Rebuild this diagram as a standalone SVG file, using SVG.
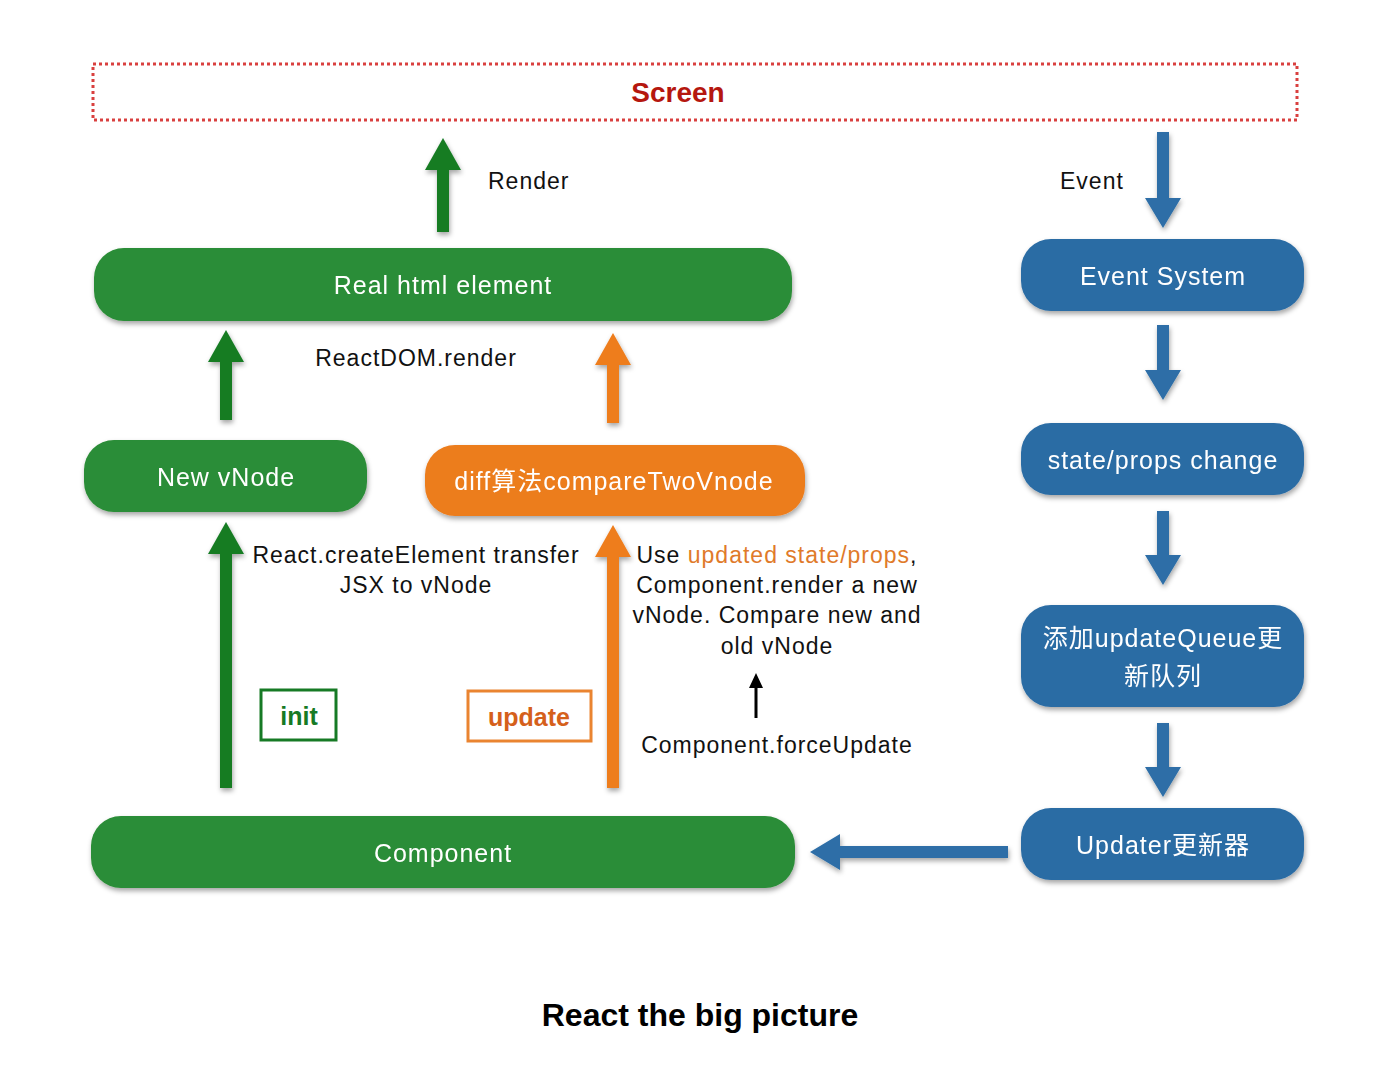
<svg xmlns="http://www.w3.org/2000/svg" width="1388" height="1070" viewBox="0 0 1388 1070">
<style>
text{font-family:"Liberation Sans",Arial,"Noto Sans CJK SC",sans-serif}
.lbl{font-size:23px;fill:#111;letter-spacing:1px}
.nt{font-size:25px;fill:#fff;text-anchor:middle;letter-spacing:1px}
.g{fill:#2c8d37}
.o{fill:#ec7d1f}
.b{fill:#2c6ca4}
.ga{fill:#157b24}
.oa{fill:#ee7d1c}
.ba{fill:#2d6ea7}
</style>
<defs>
<filter id="sh" x="-5%" y="-10%" width="110%" height="130%">
<feDropShadow dx="1" dy="3" stdDeviation="2.5" flood-color="#000" flood-opacity="0.35"/>
</filter>
</defs>
<rect width="1388" height="1070" fill="#fff"/>
<g id="screen">
<rect x="93" y="64" width="1204" height="56" fill="none" stroke="#d9403f" stroke-width="3" stroke-dasharray="3 3"/>
<text x="678" y="102" font-size="28" font-weight="bold" fill="#b5170f" text-anchor="middle">Screen</text>
</g>
<g id="connectors" filter="url(#sh)">
<path class="ga" d="M437 232 L437 170 L425 170 L443 138 L461 170 L449 170 L449 232 Z"/>
<path class="ga" d="M220 420 L220 362 L208 362 L226 330 L244 362 L232 362 L232 420 Z"/>
<path class="oa" d="M607 423 L607 365 L595 365 L613 333 L631 365 L619 365 L619 423 Z"/>
<path class="ga" d="M220 788 L220 554 L208 554 L226 522 L244 554 L232 554 L232 788 Z"/>
<path class="oa" d="M607 788 L607 557 L595 557 L613 525 L631 557 L619 557 L619 788 Z"/>
<path class="ba" d="M1157 132 L1157 198 L1145 198 L1163 228 L1181 198 L1169 198 L1169 132 Z"/>
<path class="ba" d="M1157 325 L1157 370 L1145 370 L1163 400 L1181 370 L1169 370 L1169 325 Z"/>
<path class="ba" d="M1157 511 L1157 555 L1145 555 L1163 585 L1181 555 L1169 555 L1169 511 Z"/>
<path class="ba" d="M1157 723 L1157 767 L1145 767 L1163 797 L1181 767 L1169 767 L1169 723 Z"/>
<path class="ba" d="M1008 846 L840 846 L840 834 L810 852 L840 870 L840 858 L1008 858 Z"/>
</g>
<g id="forceArrow">
<path fill="#000" d="M754.5 718 L754.5 688 L749 688 L756 673 L763 688 L757.5 688 L757.5 718 Z"/>
</g>
<g id="labels">
<text class="lbl" x="488" y="189">Render</text>
<text class="lbl" x="1060" y="189">Event</text>
<text class="lbl" x="416" y="366" text-anchor="middle">ReactDOM.render</text>
<text class="lbl" x="416" y="563" text-anchor="middle">React.createElement transfer</text>
<text class="lbl" x="416" y="593" text-anchor="middle">JSX to vNode</text>
<text class="lbl" x="777" y="563" text-anchor="middle">Use <tspan fill="#e07a2a">updated state/props</tspan>,</text>
<text class="lbl" x="777" y="593" text-anchor="middle">Component.render a new</text>
<text class="lbl" x="777" y="623" text-anchor="middle">vNode. Compare new and</text>
<text class="lbl" x="777" y="654" text-anchor="middle">old vNode</text>
<text class="lbl" x="777" y="753" text-anchor="middle">Component.forceUpdate</text>
</g>
<g id="realHtml" filter="url(#sh)">
<rect class="g" x="94" y="248" width="698" height="73" rx="30"/>
<text class="nt" x="443" y="294">Real html element</text>
</g>
<g id="newVNode" filter="url(#sh)">
<rect class="g" x="84" y="440" width="283" height="72" rx="30"/>
<text class="nt" x="226" y="486">New vNode</text>
</g>
<g id="diff" filter="url(#sh)">
<rect class="o" x="425" y="445" width="380" height="71" rx="30"/>
<text class="nt" x="614" y="490">diff算法compareTwoVnode</text>
</g>
<g id="init">
<rect x="261" y="690" width="75" height="50" fill="none" stroke="#167a25" stroke-width="3"/>
<text x="299" y="725" font-size="25" font-weight="bold" fill="#167a25" text-anchor="middle">init</text>
</g>
<g id="update">
<rect x="468" y="691" width="123" height="50" fill="none" stroke="#ea8430" stroke-width="3"/>
<text x="529" y="726" font-size="25" font-weight="bold" fill="#d5601b" text-anchor="middle">update</text>
</g>
<g id="component" filter="url(#sh)">
<rect class="g" x="91" y="816" width="704" height="72" rx="30"/>
<text class="nt" x="443" y="862">Component</text>
</g>
<g id="eventSystem" filter="url(#sh)">
<rect class="b" x="1021" y="239" width="283" height="72" rx="30"/>
<text class="nt" x="1163" y="285">Event System</text>
</g>
<g id="stateChange" filter="url(#sh)">
<rect class="b" x="1021" y="423" width="283" height="72" rx="30"/>
<text class="nt" x="1163" y="469">state/props change</text>
</g>
<g id="updateQueue" filter="url(#sh)">
<rect class="b" x="1021" y="605" width="283" height="102" rx="30"/>
<text class="nt" x="1163" y="647">添加updateQueue更</text>
<text class="nt" x="1163" y="685">新队列</text>
</g>
<g id="updater" filter="url(#sh)">
<rect class="b" x="1021" y="808" width="283" height="72" rx="30"/>
<text class="nt" x="1163" y="854">Updater更新器</text>
</g>
<text x="700" y="1026" font-size="32" font-weight="bold" fill="#000" text-anchor="middle">React the big picture</text>
</svg>
